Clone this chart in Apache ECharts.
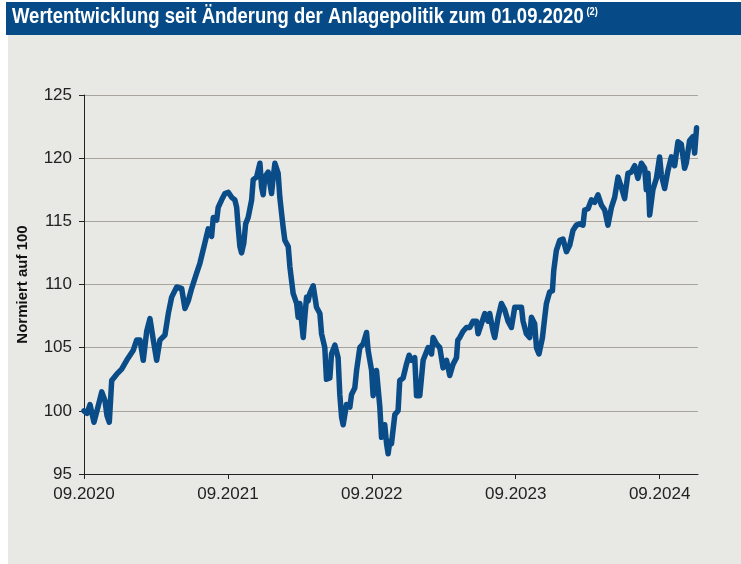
<!DOCTYPE html>
<html>
<head>
<meta charset="utf-8">
<script src="https://cdn.jsdelivr.net/npm/echarts@6/dist/echarts.min.js"></script>
<style>
  html, body { margin: 0; padding: 0; background: #fff; }
  #chart { width: 741px; height: 564px; }
</style>
</head>
<body>
<div id="chart"></div>
<script>
// Monate seit 01.09.2020
var monate = [
  0, 0.25, 0.5, 0.83, 1.19, 1.48, 1.75, 1.92, 2.11, 2.31, 2.73, 3.14, 3.56, 4.11, 4.39, 4.67, 4.94, 5.23, 5.5, 5.78,
  6.06, 6.33, 6.75, 7.03, 7.31, 7.73, 8.14, 8.42, 8.69, 8.98, 9.39, 9.67, 10.08, 10.36, 10.64, 10.78, 11.06, 11.19, 11.48, 11.75,
  12.03, 12.31, 12.58, 12.73, 12.86, 13, 13.14, 13.33, 13.48, 13.69, 13.98, 14.11, 14.39, 14.67, 14.81, 14.94, 15.08, 15.36, 15.5, 15.64,
  15.78, 15.92, 16.19, 16.33, 16.48, 16.61, 16.75, 17.03, 17.17, 17.31, 17.44, 17.73, 17.86, 18, 18.14, 18.28, 18.42, 18.56, 18.69, 18.83,
  19.11, 19.39, 19.67, 19.81, 20.08, 20.22, 20.5, 20.64, 20.92, 21.19, 21.33, 21.48, 21.61, 21.89, 22.17, 22.31, 22.58, 22.73, 23, 23.28,
  23.56, 23.69, 23.98, 24.11, 24.39, 24.67, 24.81, 25.08, 25.23, 25.36, 25.5, 25.64, 25.92, 26.19, 26.33, 26.61, 26.89, 27.11, 27.31, 27.58,
  27.73, 28, 28.28, 28.69, 28.98, 29.11, 29.39, 29.67, 29.94, 30.23, 30.5, 30.78, 31.06, 31.17, 31.33, 31.61, 31.89, 32.17, 32.44, 32.73,
  32.86, 33.14, 33.42, 33.69, 33.83, 34.11, 34.25, 34.53, 34.81, 35.08, 35.36, 35.64, 35.92, 36.19, 36.48, 36.61, 36.89, 37.17, 37.31, 37.58,
  37.73, 37.94, 38.23, 38.42, 38.56, 38.83, 39.06, 39.17, 39.39, 39.67, 39.94, 40.23, 40.5, 40.78, 41.06, 41.33, 41.61, 41.75, 42.03, 42.31,
  42.58, 42.86, 43.14, 43.42, 43.69, 43.98, 44.25, 44.53, 44.81, 45.08, 45.36, 45.64, 45.92, 46.19, 46.48, 46.75, 46.89, 47.03, 47.17, 47.44,
  47.73, 48, 48.14, 48.42, 48.69, 48.98, 49.25, 49.53, 49.81, 50.08, 50.22, 50.5, 50.78, 50.92, 51.08
]

// Normiert auf 100
var werte = [
  100.0, 99.8, 100.5, 99.1, 100.4, 101.5, 100.8, 99.6, 99.1, 102.4, 102.9, 103.3, 104.0, 104.8, 105.6, 105.6, 104.0, 106.3, 107.3, 105.6,
  104.0, 105.6, 106.0, 107.7, 109.0, 109.8, 109.7, 108.1, 108.7, 109.7, 110.9, 111.7, 113.3, 114.4, 113.8, 115.3, 115.1, 116.1, 116.7, 117.2,
  117.3, 116.9, 116.7, 116.1, 114.5, 113.0, 112.5, 113.3, 114.8, 115.3, 116.7, 118.3, 118.5, 119.6, 117.7, 117.1, 118.5, 118.9, 118.0, 117.2,
  118.5, 119.6, 118.8, 116.9, 115.6, 114.5, 113.5, 113.0, 111.4, 110.3, 109.3, 108.5, 107.4, 108.5, 107.1, 105.8, 107.5, 109.0, 108.7, 109.3,
  109.9, 108.2, 107.7, 106.1, 105.0, 102.5, 102.6, 104.5, 105.2, 104.2, 101.3, 99.5, 98.9, 100.5, 100.3, 101.3, 101.8, 103.2, 105.0, 105.3,
  106.2, 104.8, 103.2, 101.2, 103.2, 100.3, 97.9, 98.9, 97.4, 96.6, 97.6, 97.4, 99.7, 100.0, 102.4, 102.6, 103.7, 104.4, 104.0, 104.2,
  101.2, 101.2, 104.0, 105.0, 104.5, 105.8, 105.3, 105.0, 103.4, 104.0, 102.8, 103.7, 104.2, 105.6, 105.8, 106.3, 106.6, 106.6, 107.1, 107.1,
  106.1, 106.9, 107.7, 107.1, 107.7, 106.3, 105.8, 107.4, 108.5, 108.0, 107.1, 106.6, 108.2, 108.2, 108.2, 107.1, 106.1, 105.8, 107.4, 106.9,
  105.0, 104.5, 105.8, 107.4, 108.5, 109.4, 109.5, 111.1, 112.7, 113.5, 113.6, 112.6, 113.1, 114.3, 114.7, 114.8, 114.7, 115.9, 116.0, 116.7,
  116.5, 117.1, 116.3, 115.9, 114.7, 116.1, 116.9, 118.5, 117.7, 116.8, 118.8, 118.9, 119.4, 118.4, 119.6, 119.2, 117.5, 118.8, 115.5, 117.5,
  118.4, 120.1, 118.7, 117.6, 119.0, 120.1, 119.4, 121.3, 121.1, 119.2, 119.6, 121.4, 121.7, 120.4, 122.4
]

var jahresLabels = ['09.2020', '09.2021', '09.2022', '09.2023', '09.2024']

var schrift = "'Liberation Sans', Arial, sans-serif"

var daten = monate.map(function(m, i) {
  return [m, werte[i]]
})

var chart = echarts.init(document.getElementById('chart'))

chart.setOption({
  animation: false,
  backgroundColor: '#ffffff',
  graphic: [
    // grauer Hintergrund
    { type: 'rect', z: -10, shape: { x: 8, y: 35, width: 733, height: 529 }, style: { fill: '#e8e8e4' } },
    // Titelbalken
    { type: 'rect', z: -5, shape: { x: 6, y: 2, width: 735, height: 33 }, style: { fill: '#064b87' } },
    {
      type: 'text',
      x: 12,
      y: 6,
      scaleX: 0.84,
      style: {
        text: '{t|Wertentwicklung seit Änderung der Anlagepolitik zum 01.09.2020} {s|(2)}',
        rich: {
          t: { fill: '#ffffff', fontFamily: schrift, fontWeight: 'bold', fontSize: 22 },
          s: { fill: '#ffffff', fontFamily: schrift, fontWeight: 'bold', fontSize: 11, verticalAlign: 'top', padding: [0, 0, 10, 0] }
        }
      }
    }
  ],
  grid: {
    left: 84,
    right: 43,
    top: 95,
    bottom: 90
  },
  xAxis: {
    type: 'value',
    min: 0,
    max: 51.2,
    interval: 12,
    axisLine: { show: true, onZero: false, lineStyle: { color: '#222', width: 1 } },
    axisTick: { show: true, length: 5, lineStyle: { color: '#222' } },
    splitLine: { show: false },
    axisLabel: {
      margin: 12,
      color: '#222',
      fontFamily: schrift,
      fontSize: 17,
      showMaxLabel: false,
      formatter: function(v) {
        return jahresLabels[Math.round(v / 12)] || ''
      }
    }
  },
  yAxis: {
    type: 'value',
    min: 95,
    max: 125,
    interval: 5,
    name: 'Normiert auf 100',
    nameLocation: 'middle',
    nameGap: 54,
    nameTextStyle: { color: '#111', fontFamily: schrift, fontWeight: 'bold', fontSize: 15 },
    axisLine: { show: true, lineStyle: { color: '#222', width: 1 } },
    axisTick: { show: true, length: 5, lineStyle: { color: '#222' } },
    splitLine: { show: true, lineStyle: { color: '#a9a59c', width: 1 } },
    axisLabel: { margin: 12, color: '#222', fontFamily: schrift, fontSize: 17 }
  },
  series: [
    {
      type: 'line',
      data: daten,
      showSymbol: false,
      lineStyle: { color: '#0a4c88', width: 5.5, join: 'round', cap: 'round' }
    }
  ]
})
</script>
</body>
</html>
